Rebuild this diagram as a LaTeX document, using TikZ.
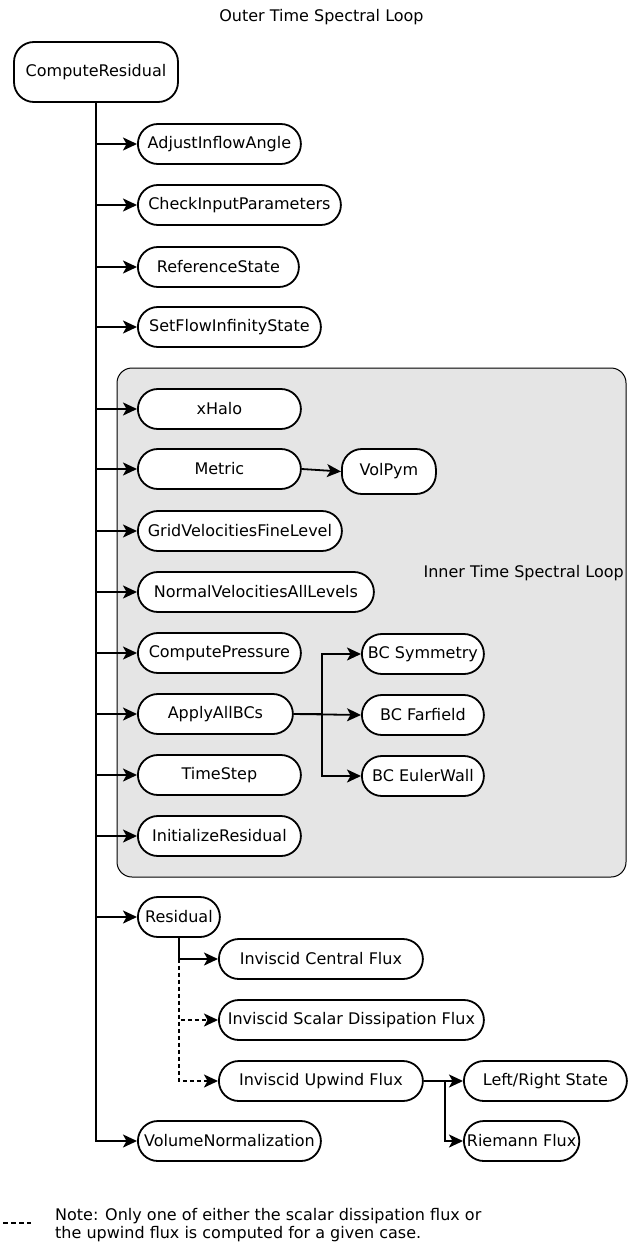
\documentclass[tikz,border=0pt]{standalone}
\usepackage{fontspec}
\setmainfont{DejaVu Sans}
\usetikzlibrary{arrows.meta}
\definecolor{loopgray}{HTML}{E5E5E5}

\begin{document}
\begin{tikzpicture}[x=1pt, y=-1pt,
    func/.style={draw, line width=1.8pt, rounded corners=20pt, fill=white, minimum height=40pt, inner xsep=3pt, font=\fontsize{16}{19}\selectfont, anchor=west},
    call/.style={line width=1.8pt, -{Stealth[length=14pt, width=13pt, inset=3.5pt]}},
    maybe/.style={call, dash pattern=on 4pt off 3pt}]
      \useasboundingbox (0,0) rectangle (640,1244);
      \draw[fill=loopgray, line width=1pt, rounded corners=15pt] (117,368) rectangle (626,877);
      \node[font=\fontsize{16}{19}\selectfont, inner sep=0pt] (outer) at (321.5,17) {Outer Time Spectral Loop};
      \node[font=\fontsize{16}{19}\selectfont, inner sep=0pt, anchor=east] (inner) at (624,573) {Inner Time Spectral Loop};
      \node[func, anchor=center, minimum width=164pt, minimum height=60pt] (comres) at (96,72) {ComputeResidual};
      \node[func, minimum width=163pt] (adjust) at (137,144) {AdjustInflowAngle};
      \node[func, minimum width=203pt] (check) at (137,205) {CheckInputParameters};
      \node[func, minimum width=161pt] (refstate) at (137,267) {ReferenceState};
      \node[func, minimum width=183pt] (setflow) at (137,327) {SetFlowInfinityState};
      \node[func, minimum width=163pt] (xhalo) at (137,409) {xHalo};
      \node[func, minimum width=163pt] (metric) at (137,469) {Metric};
      \node[func, minimum width=94pt, minimum height=45pt] (volpym) at (341,471.5) {VolPym};
      \node[func, minimum width=204pt] (gridvel) at (137,531) {GridVelocitiesFineLevel};
      \node[func, minimum width=236pt] (normvel) at (137,592) {NormalVelocitiesAllLevels};
      \node[func, minimum width=163pt] (pressure) at (137,653) {ComputePressure};
      \node[func, minimum width=155pt] (applybc) at (137,714) {ApplyAllBCs};
      \node[func, minimum width=163pt] (timestep) at (137,775) {TimeStep};
      \node[func, minimum width=163pt] (initres) at (137,836) {InitializeResidual};
      \node[func, minimum width=122pt] (bcsym) at (361,654) {BC Symmetry};
      \node[func, minimum width=122pt] (bcfar) at (361,715) {BC Farfield};
      \node[func, minimum width=122pt] (bcwall) at (361,776) {BC EulerWall};
      \node[func, minimum width=82pt] (residual) at (137,917) {Residual};
      \node[func, minimum width=204pt] (central) at (218,959) {Inviscid Central Flux};
      \node[func, minimum width=265pt] (scalar) at (218,1020) {Inviscid Scalar Dissipation Flux};
      \node[func, minimum width=204pt] (upwind) at (218,1081) {Inviscid Upwind Flux};
      \node[func, minimum width=163pt] (lrstate) at (463,1081) {Left/Right State};
      \node[func, minimum width=115pt] (riemann) at (463,1141) {Riemann Flux};
      \node[func, minimum width=183pt] (volnorm) at (137,1141) {VolumeNormalization};
      \draw[call] (comres.south) |- (adjust.west);
      \draw[call] (comres.south) |- (check.west);
      \draw[call] (comres.south) |- (refstate.west);
      \draw[call] (comres.south) |- (setflow.west);
      \draw[call] (comres.south) |- (xhalo.west);
      \draw[call] (comres.south) |- (metric.west);
      \draw[call] (comres.south) |- (gridvel.west);
      \draw[call] (comres.south) |- (normvel.west);
      \draw[call] (comres.south) |- (pressure.west);
      \draw[call] (comres.south) |- (applybc.west);
      \draw[call] (comres.south) |- (timestep.west);
      \draw[call] (comres.south) |- (initres.west);
      \draw[call] (comres.south) |- (residual.west);
      \draw[call] (comres.south) |- (volnorm.west);
      \draw[call] (metric.east) -- (volpym.west);
      \draw[call] (applybc.east) -- (bcfar.west);
      \draw[call] (applybc.east) -- ++(28,0) |- (bcsym.west);
      \draw[call] (applybc.east) -- ++(28,0) |- (bcwall.west);
      \draw[call] (residual.south) |- (central.west);
      \draw[maybe] (residual.south) |- (scalar.west);
      \draw[maybe] (residual.south) |- (upwind.west);
      \draw[call] (upwind.east) -- (lrstate.west);
      \draw[call] (upwind.east) -- ++(21,0) |- (riemann.west);
      \draw[line width=1.8pt, dash pattern=on 5pt off 3pt] (3,1223) -- (31,1223);
      \node[font=\fontsize{16}{18.5}\selectfont, inner sep=0pt, anchor=north west, align=left] (note) at (55,1208) {Note: Only one of either the scalar dissipation flux or\\the upwind flux is computed for a given case.};
\end{tikzpicture}
\end{document}
